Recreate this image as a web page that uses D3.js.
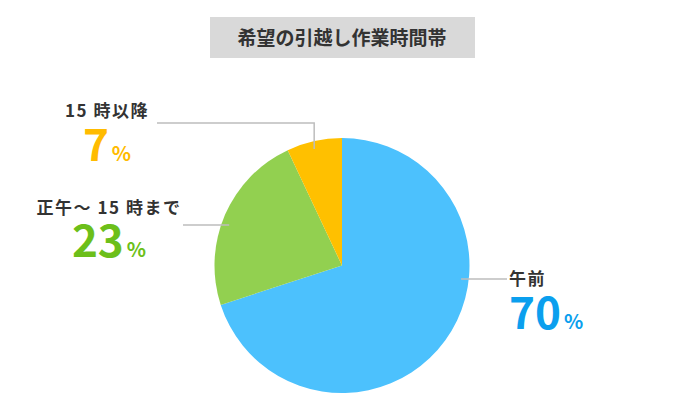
<!DOCTYPE html>
<html>
<head>
<meta charset="utf-8">
<script src="https://cdn.jsdelivr.net/npm/d3@7"></script>
<style>
  body { margin: 0; background: #fff; }
  svg text { font-family: "Noto Sans CJK JP", "Noto Sans", sans-serif; }
</style>
</head>
<body>
<div id="chart"></div>
<script>
// data
var title = "希望の引越し作業時間帯";
var categories = ["午前", "正午〜 15 時まで", "15 時以降"];
var shares = [70, 23, 7];
var sliceColors = ["#4cc1fd", "#92d050", "#ffc000"];
var textColors = ["#0b9fee", "#6cbf1a", "#ffbb00"];

var W = 685, H = 417;
var cx = 342, cy = 265.5, r = 127.5;

var svg = d3.select("#chart").append("svg")
    .attr("width", W)
    .attr("height", H);

// title box
svg.append("rect")
    .attr("x", 210).attr("y", 17)
    .attr("width", 265).attr("height", 41)
    .attr("fill", "#d9d9d9");
svg.append("text")
    .attr("x", 342).attr("y", 45)
    .attr("text-anchor", "middle")
    .style("font-size", "19px")
    .style("font-weight", "bold")
    .attr("fill", "#333")
    .text(title);

var data = categories.map(function (c, i) {
    return { name: c, value: shares[i], color: sliceColors[i], tcolor: textColors[i] };
});

var pie = d3.pie().sort(null).value(function (d) { return d.value; });
var arc = d3.arc().innerRadius(0).outerRadius(r);
var arcs = pie(data);

var g = svg.append("g").attr("transform", "translate(" + cx + "," + cy + ")");
g.selectAll("path")
    .data(arcs)
    .enter()
    .append("path")
    .attr("d", arc)
    .attr("fill", function (d) { return d.data.color; });

// leader lines, anchored inside the slices
var rin = r * 0.94;
function xOnCircle(y, side) {
    var dy = y - cy;
    return cx + side * Math.sqrt(rin * rin - dy * dy);
}
var lineColor = "#bdbdbd";
var lines = svg.append("g")
    .attr("fill", "none")
    .attr("stroke", lineColor)
    .attr("stroke-width", 1.5);

// 午前
lines.append("polyline").attr("points", [[507, 279], [xOnCircle(279, 1), 279]].join(" "));
// 正午〜15時まで
lines.append("polyline").attr("points", [[183, 225], [xOnCircle(225, -1), 225]].join(" "));
// 15時以降: vertical drop at the slice's middle angle
var midY = (arcs[2].startAngle + arcs[2].endAngle) / 2;
var vx = cx + Math.sin(midY) * r;
var vy = cy - Math.sqrt(rin * rin - (vx - cx) * (vx - cx));
lines.append("polyline").attr("points", [[157, 123], [vx, 123], [vx, vy]].join(" "));

// labels
var labelPos = [
    { x: 509, y1: 285, y2: 329, anchor: "start" },
    { x: 109, y1: 214, y2: 257, anchor: "middle" },
    { x: 107, y1: 117, y2: 161, anchor: "middle" }
];

data.forEach(function (d, i) {
    var p = labelPos[i];
    svg.append("text")
        .attr("x", p.x).attr("y", p.y1)
        .attr("text-anchor", p.anchor)
        .attr("fill", "#333")
        .style("font-size", "17px")
        .style("font-weight", "bold")
        .style("letter-spacing", "1.5px")
        .text(d.name);
    var t = svg.append("text")
        .attr("x", p.x).attr("y", p.y2)
        .attr("text-anchor", p.anchor)
        .attr("fill", d.tcolor)
        .style("font-weight", "bold");
    t.append("tspan")
        .style("font-size", "44px")
        .text(d.value);
    t.append("tspan")
        .attr("dx", 3)
        .style("font-size", "20px")
        .text("%");
});
</script>
</body>
</html>
